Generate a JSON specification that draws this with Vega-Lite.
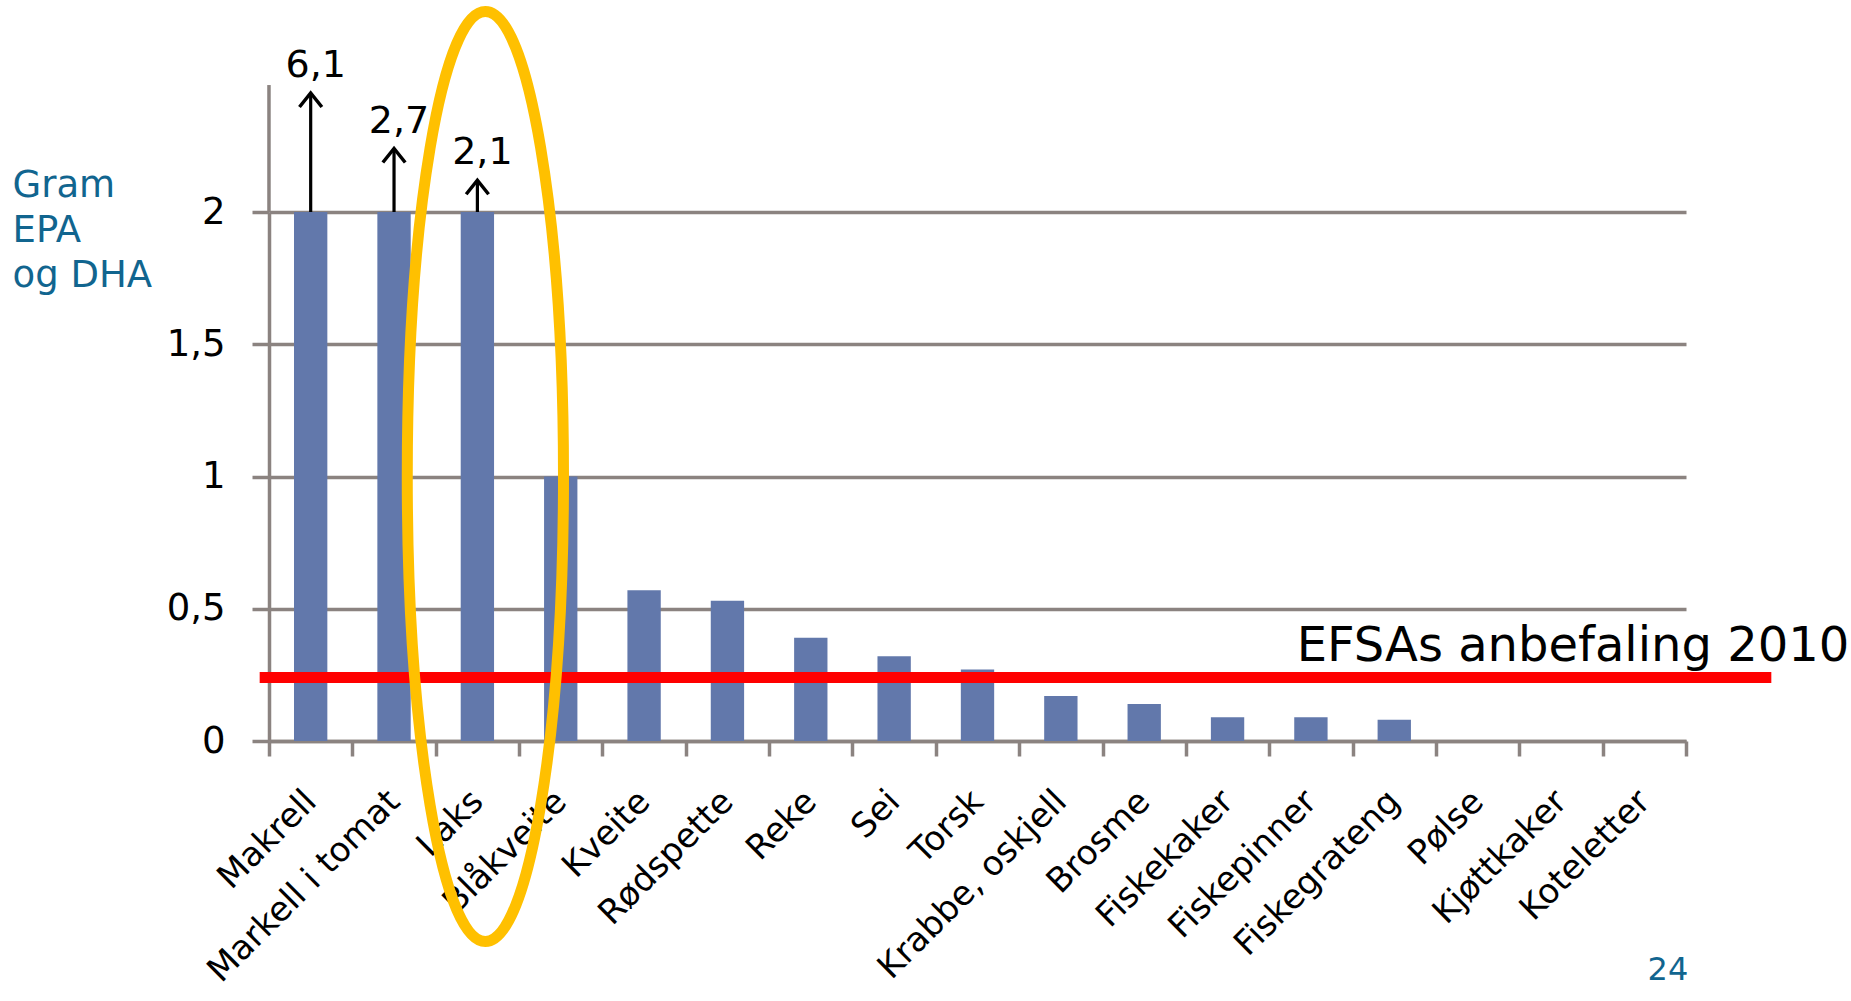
{
  "$schema": "https://vega.github.io/schema/vega-lite/v6.json",
  "width": 1417,
  "height": 529,
  "autosize": {"type": "none"},
  "padding": {"left": 269, "top": 212, "right": 165, "bottom": 260},
  "background": "white",
  "config": {
    "view": {"stroke": null},
    "font": "DejaVu Sans",
    "locale": {
      "number": {"decimal": ",", "thousands": " ", "grouping": [3], "currency": ["", " kr"]}
    }
  },
  "datasets": {
    "fisk": [
      {"fisk": "Makrell", "verdi": 6.1, "tak": 2, "pil": 2.45},
      {"fisk": "Markell i tomat", "verdi": 2.7, "tak": 2, "pil": 2.24},
      {"fisk": "Laks", "verdi": 2.1, "tak": 2, "pil": 2.12},
      {"fisk": "Blåkveite", "verdi": 1.0},
      {"fisk": "Kveite", "verdi": 0.57},
      {"fisk": "Rødspette", "verdi": 0.53},
      {"fisk": "Reke", "verdi": 0.39},
      {"fisk": "Sei", "verdi": 0.32},
      {"fisk": "Torsk", "verdi": 0.27},
      {"fisk": "Krabbe, oskjell", "verdi": 0.17},
      {"fisk": "Brosme", "verdi": 0.14},
      {"fisk": "Fiskekaker", "verdi": 0.09},
      {"fisk": "Fiskepinner", "verdi": 0.09},
      {"fisk": "Fiskegrateng", "verdi": 0.08},
      {"fisk": "Pølse", "verdi": 0},
      {"fisk": "Kjøttkaker", "verdi": 0},
      {"fisk": "Koteletter", "verdi": 0}
    ],
    "anbefaling": [
      {"grense": 0.24, "fra": "Makrell", "til": "Koteletter", "tekst": "EFSAs anbefaling 2010"}
    ],
    "akse": [
      {"fisk": "Makrell", "fra": 2, "til": 2.48}
    ],
    "markering": [
      {"fisk": "Laks", "midt": 1}
    ],
    "side": [
      {"fisk": "Koteletter", "side": "24"}
    ]
  },
  "layer": [
    {
      "data": {"name": "fisk"},
      "mark": {"type": "bar", "color": "#6278ab", "clip": true, "width": {"band": 0.4}},
      "encoding": {
        "x": {
          "field": "fisk",
          "type": "nominal",
          "sort": null,
          "scale": {
            "domain": ["Makrell", "Markell i tomat", "Laks", "Blåkveite", "Kveite", "Rødspette", "Reke", "Sei", "Torsk", "Krabbe, oskjell", "Brosme", "Fiskekaker", "Fiskepinner", "Fiskegrateng", "Pølse", "Kjøttkaker", "Koteletter"],
            "paddingInner": 0,
            "paddingOuter": 0
          },
          "axis": {
            "title": null,
            "labelAngle": -45,
            "labelAlign": "right",
            "labelBaseline": "top",
            "labelFont": "DejaVu Sans",
            "labelFontSize": 34,
            "labelColor": "black",
            "labelLimit": 600,
            "labelOverlap": false,
            "labelPadding": 28,
            "labelOffset": -12,
            "tickBand": "extent",
            "tickSize": 15,
            "tickWidth": 3.5,
            "tickColor": "#8b8380",
            "domainColor": "#8b8380",
            "domainWidth": 3.5
          }
        },
        "y": {
          "field": "verdi",
          "type": "quantitative",
          "scale": {"domain": [0, 2], "nice": false},
          "axis": {
            "values": [0, 0.5, 1, 1.5, 2],
            "format": "~g",
            "grid": true,
            "gridColor": "#8b8380",
            "gridWidth": 3.5,
            "domainColor": "#8b8380",
            "domainWidth": 3.5,
            "tickColor": "#8b8380",
            "tickWidth": 3.5,
            "tickSize": 17,
            "labelFont": "DejaVu Sans",
            "labelFontSize": 37,
            "labelColor": "black",
            "labelPadding": 27,
            "title": ["Gram", "EPA", "og DHA"],
            "titleFont": "DejaVu Sans",
            "titleColor": "#11658f",
            "titleFontSize": 37,
            "titleFontWeight": "normal",
            "titleAngle": 0,
            "titleAlign": "left",
            "titleBaseline": "alphabetic",
            "titleX": -257,
            "titleY": -16,
            "titleLineHeight": 45
          }
        }
      }
    },
    {
      "data": {"name": "fisk"},
      "transform": [{"filter": "datum.verdi > 2"}],
      "mark": {"type": "rule", "color": "black", "strokeWidth": 3.2},
      "encoding": {
        "x": {"field": "fisk", "type": "nominal"},
        "y": {"field": "tak", "type": "quantitative"},
        "y2": {"field": "pil"}
      }
    },
    {
      "data": {"name": "fisk"},
      "transform": [{"filter": "datum.verdi > 2"}],
      "mark": {
        "type": "point",
        "shape": "M-0.8,1L0,0L0.8,1",
        "filled": false,
        "stroke": "black",
        "strokeWidth": 3.5,
        "opacity": 1,
        "size": 784
      },
      "encoding": {
        "x": {"field": "fisk", "type": "nominal"},
        "y": {"field": "pil", "type": "quantitative"}
      }
    },
    {
      "data": {"name": "fisk"},
      "transform": [{"filter": "datum.verdi > 2"}],
      "mark": {
        "type": "text",
        "font": "DejaVu Sans",
        "fontSize": 38,
        "color": "black",
        "baseline": "alphabetic",
        "dx": 5,
        "dy": -16
      },
      "encoding": {
        "x": {"field": "fisk", "type": "nominal"},
        "y": {"field": "pil", "type": "quantitative"},
        "text": {"field": "verdi", "type": "quantitative", "format": ".1f"}
      }
    },
    {
      "data": {"name": "anbefaling"},
      "mark": {"type": "rule", "color": "#ff0000", "strokeWidth": 11, "xOffset": -51, "x2Offset": 127},
      "encoding": {
        "x": {"field": "fra", "type": "nominal"},
        "x2": {"field": "til"},
        "y": {"field": "grense", "type": "quantitative"}
      }
    },
    {
      "data": {"name": "anbefaling"},
      "mark": {
        "type": "text",
        "font": "DejaVu Sans",
        "fontSize": 48,
        "color": "black",
        "align": "right",
        "baseline": "alphabetic",
        "dx": 205,
        "dy": -17
      },
      "encoding": {
        "x": {"field": "til", "type": "nominal"},
        "y": {"field": "grense", "type": "quantitative"},
        "text": {"field": "tekst", "type": "nominal"}
      }
    },
    {
      "data": {"name": "akse"},
      "mark": {"type": "rule", "color": "#8b8380", "strokeWidth": 3.5, "xOffset": -41.7},
      "encoding": {
        "x": {"field": "fisk", "type": "nominal"},
        "y": {"field": "fra", "type": "quantitative"},
        "y2": {"field": "til"}
      }
    },
    {
      "data": {"name": "markering"},
      "mark": {
        "type": "point",
        "shape": "M0,-1C0.0928,-1,0.168,-0.5523,0.168,0C0.168,0.5523,0.0928,1,0,1C-0.0928,1,-0.168,0.5523,-0.168,0C-0.168,-0.5523,-0.0928,-1,0,-1Z",
        "filled": false,
        "stroke": "#ffc000",
        "strokeWidth": 11,
        "opacity": 1,
        "size": 864900,
        "xOffset": 8
      },
      "encoding": {
        "x": {"field": "fisk", "type": "nominal"},
        "y": {"field": "midt", "type": "quantitative"}
      }
    },
    {
      "data": {"name": "side"},
      "mark": {
        "type": "text",
        "font": "DejaVu Sans",
        "fontSize": 32,
        "color": "#11658f",
        "align": "right",
        "baseline": "alphabetic",
        "dx": 44,
        "dy": 239
      },
      "encoding": {
        "x": {"field": "fisk", "type": "nominal"},
        "y": {"datum": 0, "type": "quantitative"},
        "text": {"field": "side", "type": "nominal"}
      }
    }
  ]
}
